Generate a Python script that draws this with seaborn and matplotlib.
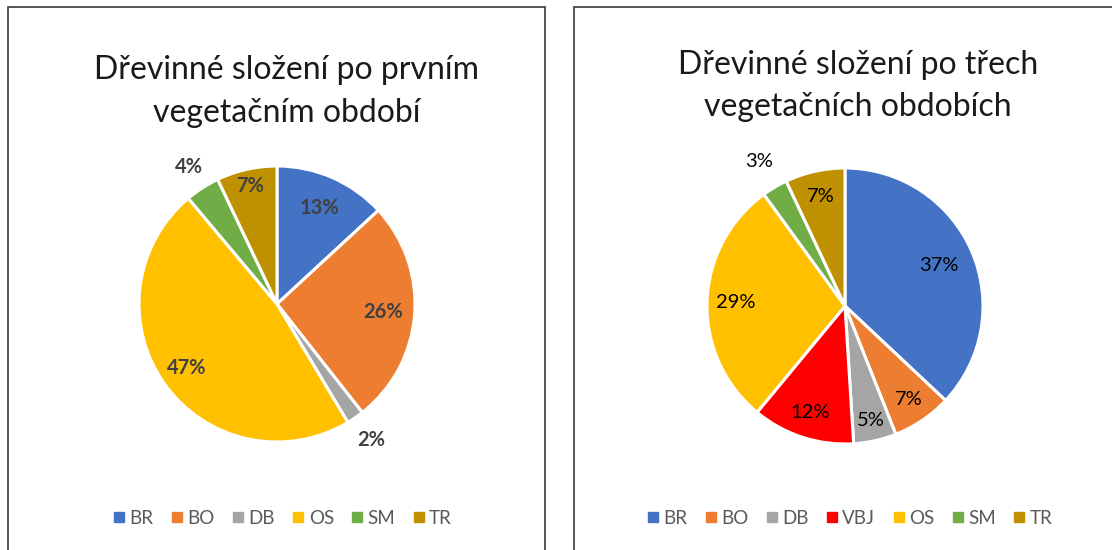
import matplotlib
matplotlib.use("Agg")
import matplotlib.pyplot as plt
from matplotlib.patches import Rectangle
from matplotlib.lines import Line2D
import numpy as np
import seaborn as sns

sns.set_theme(style="white")
plt.rcParams['font.family'] = ['Lato', 'DejaVu Sans']

# Data
title1 = "Dřevinné složení po prvním\nvegetačním období"
cats1 = ["BR", "BO", "DB", "OS", "SM", "TR"]
vals1 = [13, 26, 2, 47, 4, 7]

title2 = "Dřevinné složení po třech\nvegetačních obdobích"
cats2 = ["BR", "BO", "DB", "VBJ", "OS", "SM", "TR"]
vals2 = [37, 7, 5, 12, 29, 3, 7]

color_map = {"BR": "#4472C4", "BO": "#ED7D31", "DB": "#A5A5A5", "VBJ": "#FF0000",
             "OS": "#FFC000", "SM": "#70AD47", "TR": "#BF9000"}

W, H = 1112, 550
fig = plt.figure(figsize=(W / 100, H / 100), dpi=100)
fig.patch.set_facecolor("white")

def px_axes(x0, y0, w, h):
    return fig.add_axes([x0 / W, 1 - (y0 + h) / H, w / W, h / H])

# panel borders
for (x0, x1) in [(8, 545), (574, 1130)]:
    fig.patches.append(Rectangle((x0 / W, -0.05), (x1 - x0) / W, 1.05 - 7 / H,
                                 transform=fig.transFigure, fill=False,
                                 edgecolor="#3a3a3a", linewidth=1.2))

def draw(cats, vals, center, title, title_x, title_ys, legend_xy, bold, dists):
    cx, cy = center
    r = 138
    ax = px_axes(cx - r, cy - r, 2 * r, 2 * r)
    colors = [color_map[c] for c in cats]
    wedges, _ = ax.pie(vals, colors=colors, startangle=90, counterclock=False,
                       radius=1.0, wedgeprops=dict(edgecolor="white", linewidth=2.2))
    ax.set_xlim(-1, 1)
    ax.set_ylim(-1, 1)
    ax.axis("off")
    for w, v, d in zip(wedges, vals, dists):
        ang = np.deg2rad((w.theta1 + w.theta2) / 2)
        ax.text(d * np.cos(ang), d * np.sin(ang), f"{v}%", ha="center", va="center",
                fontsize=14.5, color="#404040" if bold else "#000000",
                fontweight="bold" if bold else "normal", clip_on=False)
    for line, ty in zip(title.split("\n"), title_ys):
        fig.text(title_x / W, 1 - ty / H, line, ha="center", va="center_baseline",
                 fontsize=23, color="#1a1a1a")
    handles = [Line2D([], [], marker="s", linestyle="none", markersize=7.5,
                      markerfacecolor=c, markeredgecolor=c) for c in colors]
    fig.legend(handles, cats, loc="center", ncol=len(cats),
               bbox_to_anchor=(legend_xy[0] / W, 1 - legend_xy[1] / H),
               frameon=False, fontsize=13.5, labelcolor="#595959",
               handletextpad=0.05, columnspacing=0.75, handlelength=1.0)

draw(cats1, vals1, (277, 304), title1, 287, (67, 110), (281, 518), True,
     [0.76, 0.77, 1.2, 0.8, 1.18, 0.88])
draw(cats2, vals2, (845, 306), title2, 858, (62, 104), (848, 518), False,
     [0.74, 0.82, 0.85, 0.81, 0.79, 1.22, 0.81])

fig.savefig("out.png", dpi=100, facecolor="white")
